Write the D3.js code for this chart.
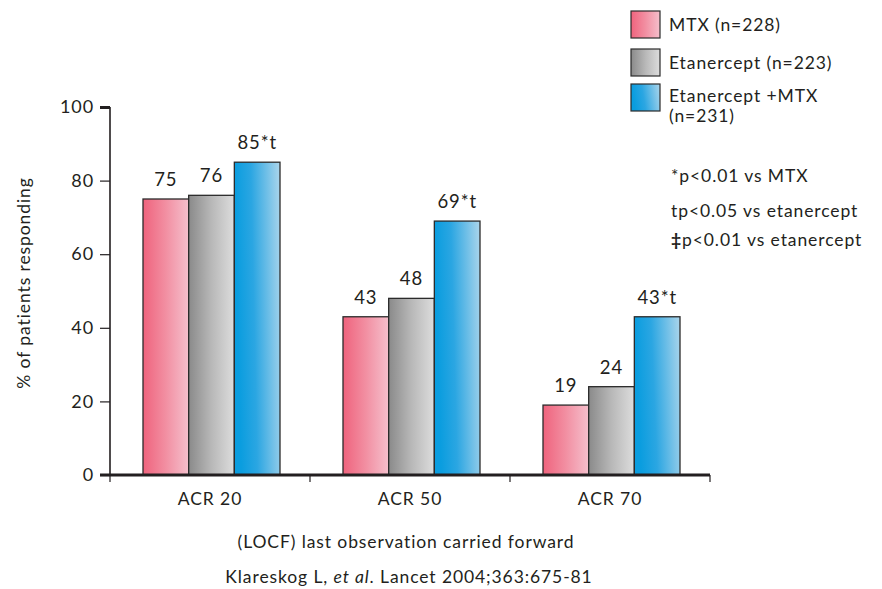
<!DOCTYPE html>
<html>
<head>
<meta charset="utf-8">
<script src="https://cdn.jsdelivr.net/npm/d3@7"></script>
<style>
  html, body { margin: 0; padding: 0; background: #fff; }
  svg text { font-family: Lato, "Noto Sans", sans-serif; fill: #231f20; letter-spacing: 0.9px; }
</style>
</head>
<body>
<svg id="chart" width="882" height="589"></svg>
<script>
// Response rates by ACR criterion and treatment arm
const categories = ["ACR 20", "ACR 50", "ACR 70"];
const seriesNames = ["MTX (n=228)", "Etanercept (n=223)", "Etanercept +MTX"];
const mtx = [75, 43, 19];
const etanercept = [76, 48, 24];
const combo = [85, 69, 43];
const valueLabels = [
  ["75", "43", "19"],
  ["76", "48", "24"],
  ["85*t", "69*t", "43*t"]
];
const yTicks = [0, 20, 40, 60, 80, 100];
const footnoteMarks = ["*", "t", "\u2021"];
const footnotes = ["p<0.01 vs MTX", "p<0.05 vs etanercept", "p<0.01 vs etanercept"];

const series = [mtx, etanercept, combo];
const gradIds = ["gMtx", "gEta", "gCombo"];
const FONT = "Lato, 'Noto Sans', sans-serif";
const FS = 17.5;

const svg = d3.select("#chart");
const defs = svg.append("defs");

function grad(id, stops, x2, y2) {
  const g = defs.append("linearGradient").attr("id", id)
    .attr("x1", 0).attr("y1", 0).attr("x2", x2).attr("y2", y2);
  stops.forEach(s => g.append("stop").attr("offset", s[0]).attr("stop-color", s[1]));
}
grad("gMtx", [[0, "#ef637d"], [0.5, "#f28fa2"], [1, "#f5bfcc"]], 1, 0);
grad("gEta", [[0, "#8a8a8a"], [0.5, "#b8b8b8"], [1, "#dddddd"]], 1, 0);
grad("gCombo", [[0, "#0a9ddf"], [0.35, "#2ba6e2"], [1, "#b0d7ec"]], 1, -0.15);

const y = d3.scaleLinear().domain([0, 100]).range([475, 107]);
const x0 = d3.scaleBand().domain(categories).range([110, 710]).padding(0);
const x1 = d3.scaleBand().domain(d3.range(series.length)).range([33, 170]).padding(0);

// Bars
const groups = svg.append("g").selectAll("g").data(categories).join("g")
  .attr("transform", d => `translate(${x0(d)},0)`);

const cells = (c, ci) => series.map((s, si) => ({ si, v: s[ci], label: valueLabels[si][ci] }));

groups.selectAll("rect").data(cells).join("rect")
  .attr("x", d => x1(d.si))
  .attr("y", d => y(d.v))
  .attr("width", x1.bandwidth())
  .attr("height", d => y(0) - y(d.v))
  .attr("fill", d => `url(#${gradIds[d.si]})`)
  .attr("stroke", "#2b2b2b")
  .attr("stroke-width", 1.3);

groups.selectAll("text.val").data(cells).join("text")
  .attr("class", "val")
  .attr("x", d => x1(d.si) + x1.bandwidth() / 2)
  .attr("y", d => y(d.v) - 13)
  .attr("text-anchor", "middle")
  .attr("font-size", 18.5)
  .text(d => d.label);

// Y axis
const yAxis = svg.append("g").attr("transform", "translate(110,0)")
  .call(d3.axisLeft(y).tickValues(yTicks).tickSize(10).tickPadding(6));
yAxis.select(".domain").attr("stroke", "#231f20").attr("stroke-width", 1.6)
  .attr("d", `M0,${y(0)}V${y(100)}`);
yAxis.selectAll(".tick line").attr("stroke", "#231f20").attr("stroke-width", 1.2);
yAxis.selectAll(".tick").filter(d => d === 100).select("line").attr("stroke-width", 3);
yAxis.selectAll(".tick text").attr("font-size", 18).attr("font-family", FONT).attr("fill", "#231f20");

// X axis baseline with category separators
const xAxis = svg.append("g").attr("transform", `translate(0,${y(0)})`)
  .call(d3.axisBottom(x0).tickSize(0).tickPadding(18));
xAxis.select(".domain").remove();
xAxis.selectAll(".tick text").attr("font-size", FS).attr("font-family", FONT).attr("fill", "#231f20");
const seps = [x0.range()[0]].concat(categories.map(c => x0(c) + x0.bandwidth()));
xAxis.selectAll("line.sep").data(seps).join("line").attr("class", "sep")
  .attr("x1", d => d).attr("x2", d => d).attr("y1", 0).attr("y2", 7)
  .attr("stroke", "#231f20").attr("stroke-width", 1.2);
xAxis.append("line").attr("x1", 100).attr("x2", x0.range()[1])
  .attr("y1", 0).attr("y2", 0).attr("stroke", "#231f20").attr("stroke-width", 3);

// Y axis title
svg.append("text")
  .attr("transform", "translate(30,283) rotate(-90)")
  .attr("text-anchor", "middle").attr("font-size", FS)
  .text("% of patients responding");

// Legend
const legend = svg.append("g");
const legendY = [11, 49, 84];
seriesNames.forEach((name, i) => {
  legend.append("rect").attr("x", 631).attr("y", legendY[i]).attr("width", 29).attr("height", 27)
    .attr("fill", `url(#${gradIds[i]})`).attr("stroke", "#2b2b2b").attr("stroke-width", 1.2);
});
legend.append("text").attr("x", 669).attr("y", 31).attr("font-size", FS).text(seriesNames[0]);
legend.append("text").attr("x", 669).attr("y", 69).attr("font-size", FS).text(seriesNames[1]);
legend.append("text").attr("x", 669).attr("y", 102).attr("font-size", FS).text(seriesNames[2]);
legend.append("text").attr("x", 669).attr("y", 122).attr("font-size", FS).text("(n=231)");

// Significance notes
const noteX = [671, 671, 671];
const noteY = [182, 217, 246];
footnotes.forEach((t, i) => {
  const tx = svg.append("text").attr("x", noteX[i]).attr("y", noteY[i]).attr("font-size", FS);
  tx.append("tspan").attr("font-weight", i === 2 ? "bold" : null).text(footnoteMarks[i]);
  tx.append("tspan").text(t);
});

// Footer
svg.append("text").attr("x", 406).attr("y", 548).attr("text-anchor", "middle").attr("font-size", FS)
  .text("(LOCF) last observation carried forward");
const cite = svg.append("text").attr("x", 409).attr("y", 583).attr("text-anchor", "middle").attr("font-size", FS);
cite.append("tspan").text("Klareskog L, ");
cite.append("tspan").attr("font-style", "italic").text("et al");
cite.append("tspan").text(". Lancet 2004;363:675-81");
</script>
</body>
</html>
